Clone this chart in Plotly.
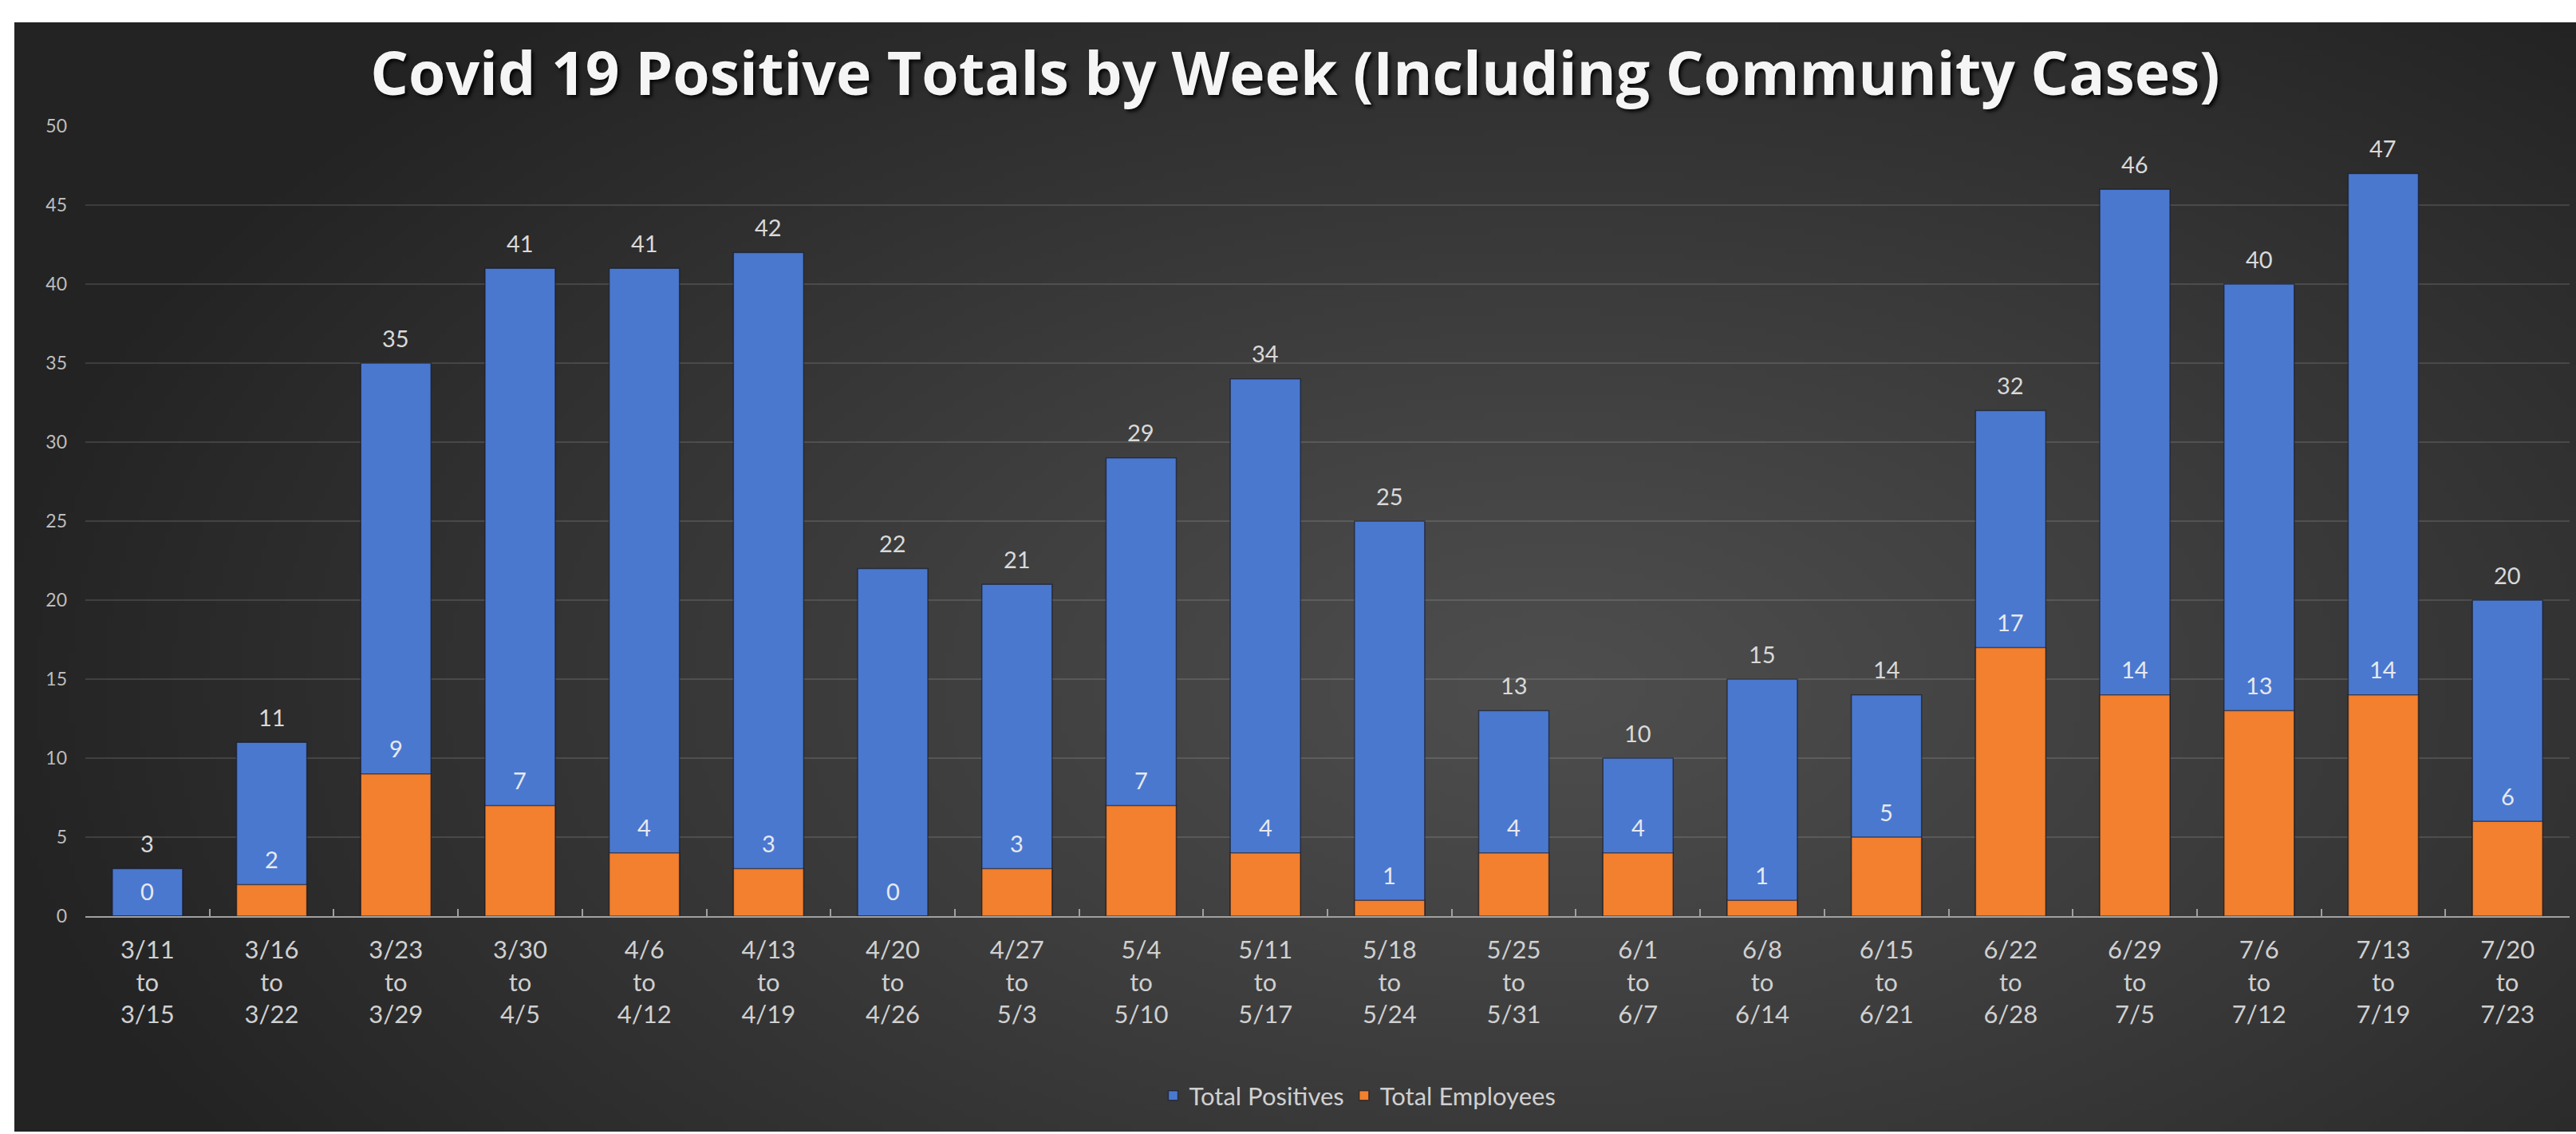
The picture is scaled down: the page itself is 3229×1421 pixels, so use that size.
import base64, struct, zlib
import numpy as np
import plotly.graph_objects as go

# ---------------- data ----------------
week_start = ["3/11", "3/16", "3/23", "3/30", "4/6", "4/13", "4/20", "4/27", "5/4", "5/11",
              "5/18", "5/25", "6/1", "6/8", "6/15", "6/22", "6/29", "7/6", "7/13", "7/20"]
week_end = ["3/15", "3/22", "3/29", "4/5", "4/12", "4/19", "4/26", "5/3", "5/10", "5/17",
            "5/24", "5/31", "6/7", "6/14", "6/21", "6/28", "7/5", "7/12", "7/19", "7/23"]
total_positives = [3, 11, 35, 41, 41, 42, 22, 21, 29, 34, 25, 13, 10, 15, 14, 32, 46, 40, 47, 20]
total_employees = [0, 2, 9, 7, 4, 3, 0, 3, 7, 4, 1, 4, 4, 1, 5, 17, 14, 13, 14, 6]
y_ticks = [0, 5, 10, 15, 20, 25, 30, 35, 40, 45, 50]

categories = [f"{a}<br>to<br>{b}" for a, b in zip(week_start, week_end)]

W, H = 3229, 1421

# ---------------- background gradient image ----------------
def gradient_png(w=400, h=180):
    u = np.linspace(0, 1, w)[None, :]
    v = np.linspace(0, 1, h)[:, None]
    d = np.sqrt(((u - 0.6) / 0.62) ** 2 + ((v - 0.6) / 0.8) ** 2)
    t = np.clip(d, 0, 1) ** 1.1
    c0 = np.array([78, 78, 78], float)
    c1 = np.array([35, 35, 35], float)
    img = c0[None, None, :] + (c1 - c0)[None, None, :] * t[:, :, None]
    img = np.clip(img, 0, 255).astype(np.uint8)
    raw = b"".join(b"\x00" + img[r].tobytes() for r in range(h))

    def chunk(tag, data):
        return (struct.pack(">I", len(data)) + tag + data +
                struct.pack(">I", zlib.crc32(tag + data) & 0xffffffff))

    png = (b"\x89PNG\r\n\x1a\n" +
           chunk(b"IHDR", struct.pack(">IIBBBBB", w, h, 8, 2, 0, 0, 0)) +
           chunk(b"IDAT", zlib.compress(raw, 9)) +
           chunk(b"IEND", b""))
    return "data:image/png;base64," + base64.b64encode(png).decode()

FONT = "Lato"

fig = go.Figure()
fig.add_trace(go.Bar(
    x=categories, y=total_positives, name="Total Positives",
    marker=dict(color="#4a78cf", line=dict(color="rgba(20,20,30,0.6)", width=1.5)),
    width=0.565, hoverinfo="x+y",
))
fig.add_trace(go.Bar(
    x=categories, y=total_employees, name="Total Employees",
    marker=dict(color="#f2802e", line=dict(color="rgba(20,20,30,0.6)", width=1.5)),
    width=0.565, hoverinfo="x+y",
))

# value labels, placed through the axes at each bar's value
annotations = []
for series, col in ((total_positives, "#d9d9d9"), (total_employees, "#e6e9f0")):
    for cat, val in zip(categories, series):
        annotations.append(dict(
            x=cat, y=val, xref="x", yref="y", text=str(val), showarrow=False,
            yanchor="middle", yshift=32,
            font=dict(family=FONT, size=29, color=col),
        ))

fig.update_layout(
    width=W, height=H,
    margin=dict(l=0, r=0, t=0, b=0, autoexpand=False),
    paper_bgcolor="white",
    plot_bgcolor="rgba(0,0,0,0)",
    barmode="overlay",
    showlegend=True,
    annotations=annotations,
    title=dict(
        text="Covid 19 Positive Totals by Week (Including Community Cases)",
        x=(18 + W) / 2 / W, y=1 - 93 / H, xanchor="center", yanchor="middle",
        xref="paper", yref="paper",
        font=dict(family="Open Sans", size=75, color="#f5f5f5", weight="bold",
                  shadow="3px 3px 4px rgba(0,0,0,0.85)"),
    ),
    legend=dict(
        orientation="h", x=1703 / W, xanchor="center", y=1 - 1373 / H, yanchor="middle",
        font=dict(family=FONT, size=31, color="#d0d0d0"),
        bgcolor="rgba(0,0,0,0)", itemwidth=30,
    ),
    images=[dict(
        source=gradient_png(), xref="paper", yref="paper",
        x=18 / W, y=1 - 28 / H, sizex=(W - 18) / W, sizey=(1418 - 28) / H,
        xanchor="left", yanchor="top", sizing="stretch", layer="below",
    )],
    xaxis=dict(
        domain=[107 / W, 3221 / W], type="category", automargin=False,
        showline=True, linecolor="#a0a0a0", linewidth=2,
        ticks="inside", ticklen=9, tickwidth=2, tickcolor="#a0a0a0",
        tickson="boundaries", showgrid=False,
        tickfont=dict(family=FONT, size=31, color="#d0d0d0"),
        ticklabelstandoff=14,
    ),
    yaxis=dict(
        domain=[1 - 1148 / H, 1 - 158 / H], range=[0, 50],
        tickmode="array", tickvals=y_ticks, automargin=False,
        showgrid=True, gridcolor="rgba(255,255,255,0.12)", gridwidth=2,
        zeroline=False, showline=False,
        tickfont=dict(family=FONT, size=23, color="#bdbdbd"),
        ticklabelstandoff=22,
    ),
)

fig.write_html("out.html")
